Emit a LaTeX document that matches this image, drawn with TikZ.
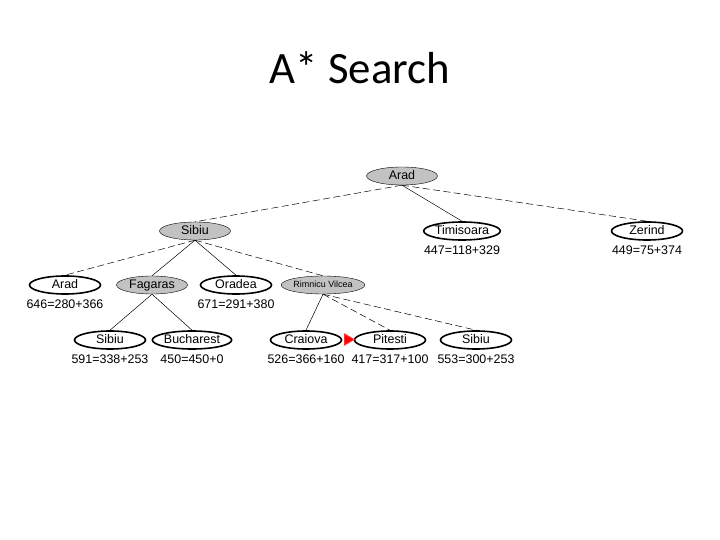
\documentclass[tikz,border=0pt]{standalone}
\usepackage{fontspec}
\setmainfont{Liberation Sans}
\newfontfamily\titlefont{Carlito}
\usetikzlibrary{positioning,shapes.geometric}

\begin{document}
\begin{tikzpicture}[
  x=1bp,y=-1bp,
  node distance=3.5bp,
  city/.style={draw,ellipse,line width=1.6pt,minimum width=71bp,minimum height=18bp,
               inner sep=0pt,text height=9bp,text depth=2.5bp,
               font=\fontsize{12.5}{13}\selectfont},
  expd/.style={city,fill=black!24,line width=0.4pt},
  cost/.style={inner sep=1pt,font=\fontsize{12.5}{13}\selectfont},
  link/.style={line width=0.5pt},
  farlink/.style={link,dash pattern=on 7pt off 3.5pt}
]
\useasboundingbox[fill=white] (0,0) rectangle (720,540);
\node[font=\titlefont\fontsize{45}{48}\selectfont] (title) at (360,68) {A* Search};

% root and first expansion
\node[expd] (arad) at (402,176) {Arad};
\node[expd] (sib) at (195,231) {Sibiu};
\node[city] (tim) at (462,231) {Timisoara};
\node[city] (zer) at (647,231) {Zerind};
\node[cost,below=of tim] (timc) {447=118+329};
\node[cost,below=of zer] (zerc) {449=75+374};

% children of Sibiu
\node[city] (arad2) at (65,285) {Arad};
\node[expd] (fag) at (152,285) {Fagaras};
\node[city] (ora) at (236,285) {Oradea};
\node[expd,font=\fontsize{9}{10}\selectfont,text height=7bp,text depth=2bp] (rim) at (323,285) {Rimnicu Vilcea};
\node[cost,below=of arad2] (arad2c) {646=280+366};
\node[cost,below=of ora] (orac) {671=291+380};

% leaves
\node[city] (sib2) at (110,340) {Sibiu};
\node[city] (buc) at (192,340) {Bucharest};
\node[city] (cra) at (306,340) {Craiova};
\node[city] (pit) at (390,340) {Pitesti};
\node[city] (sib3) at (476,340) {Sibiu};
\node[cost,below=of sib2] (sib2c) {591=338+253};
\node[cost,below=of buc] (bucc) {450=450+0};
\node[cost,below=of cra] (crac) {526=366+160};
\node[cost,below=of pit] (pitc) {417=317+100};
\node[cost,below=of sib3] (sib3c) {553=300+253};

% next pick
\draw[red!80,line width=1pt,fill=red,line join=miter] (344.5,334) -- (354,339.5) -- (344.5,345) -- cycle;

\draw[farlink] (arad.south) -- (sib.north);
\draw[link] (arad.south) -- (tim.north);
\draw[farlink] (arad.south) -- (zer.north);
\draw[farlink] (sib.south) -- (arad2.north);
\draw[link] (sib.south) -- (fag.north);
\draw[link] (sib.south) -- (ora.north);
\draw[farlink] (sib.south) -- (rim.north);
\draw[link] (fag.south) -- (sib2.north);
\draw[link] (fag.south) -- (buc.north);
\draw[link] (rim.south) -- (cra.north);
\draw[farlink] (rim.south) -- (pit.north);
\draw[farlink] (rim.south) -- (sib3.north);
\end{tikzpicture}
\end{document}
